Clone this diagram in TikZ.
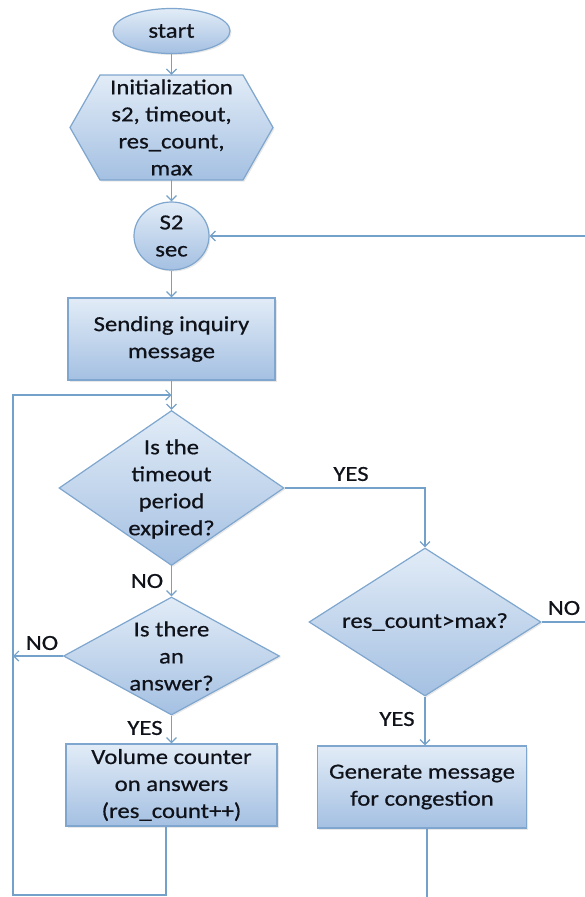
\documentclass[tikz,border=0pt]{standalone}
\usepackage{fontspec}
\setmainfont[FakeStretch=1.15,FakeBold=0.6]{Carlito}
\usetikzlibrary{arrows.meta,shapes.geometric,shadows}
\definecolor{fillTop}{HTML}{E2ECF7}
\definecolor{fillBot}{HTML}{A4C0E2}
\definecolor{edgec}{HTML}{7EA6CE}
\definecolor{wirec}{HTML}{74A1C9}
\definecolor{ink}{HTML}{10121A}
\begin{document}
\begin{tikzpicture}[x=1pt,y=-1pt,
  box/.style={draw=edgec, line width=1.2pt, top color=fillTop, bottom color=fillBot,
    text=ink, align=center, font=\fontsize{21.5}{27}\selectfont, inner sep=0pt,
    drop shadow={opacity=0.18, shadow xshift=1.5pt, shadow yshift=-1.5pt}},
  txt/.style={text=ink, align=center, font=\fontsize{21.5}{27}\selectfont, inner sep=0pt},
  wire/.style={draw=wirec, line width=1.3pt},
  arr/.style={wire, -{Straight Barb[length=5pt,width=10pt,line width=1.2pt]}},
  lbl/.style={txt, inner sep=1pt}]
\useasboundingbox (0,0) rectangle (585,897);

% start
\node[box, ellipse, minimum width=117, minimum height=45] (start) at (171.5,31) {start};

% initialization hexagon
\path[box] (70,127.5) -- (100,75) -- (243,75) -- (273,127.5) -- (243,180) -- (100,180) -- cycle;
\node[txt, minimum width=203, minimum height=105] (init) at (171.5,127.5)
  {Initialization\\s2, timeout,\\res\_count,\\max};

% wait circle
\node[box, ellipse, minimum width=75, minimum height=68] (wait) at (171.5,236) {};
\node[txt] (waitt) at (wait) {S2\\sec};

% sending inquiry
\node[box, minimum width=207, minimum height=82] (send) at (171.5,339) {Sending inquiry\\message};

% decision 1
\node[box, diamond, minimum width=225, minimum height=155] (q1) at (171.5,488) {};
\node[txt] (q1t) at (171.5,489) {Is the\\timeout\\period\\expired?};

% decision answer
\node[box, diamond, minimum width=216, minimum height=118] (q2) at (171.5,656) {};
\node[txt] (q2t) at (171.5,656) {Is there\\an\\answer?};

% volume counter
\node[box, minimum width=211, minimum height=82] (vol) at (171.5,785)
  {Volume counter\\on answers\\(res\_count++)};

% decision 3
\node[box, diamond, minimum width=232, minimum height=148] (q3) at (425,622) {};
\node[txt] (q3t) at (425,622) {res\_count>max?};

% generate message
\node[box, minimum width=209, minimum height=82] (gen) at (422,787)
  {Generate message\\for congestion};

% helper coordinates
\coordinate (lpTop) at (13,395);
\coordinate (lpBot) at (13,895);
\coordinate (retIn) at (585,236);
\coordinate (noOut) at (585,622);
\coordinate (genEnd) at (427,897);

% connectors
\draw[arr] (start.south) -- (init.north);
\draw[arr] (init.south) -- (wait.north);
\draw[arr] (wait.south) -- (send.north);
\draw[arr] (send.south) -- (q1.north);
\draw[arr] (q1.south) -- (q2.north);
\draw[arr] (q2.south) -- (vol.north);
\draw[arr] (q2.west) -- (q2.west -| lpTop);
\draw[arr] ([xshift=-5.5pt]vol.south) |- (lpBot) |- (lpTop -| send.south);
\draw[arr] (q1.east) -| (q3.north);
\draw[arr] (q3.south) -- (q3.south |- gen.north);
\draw[wire] (q3.east) -- (noOut);
\draw[wire] (gen.south -| genEnd) -- (genEnd);
\draw[arr] (retIn) -- (wait.east);

% labels
\node[lbl] (yes1) at (351,474) {YES};
\node[lbl] (no1) at (147,581) {NO};
\node[lbl] (no2) at (42,643) {NO};
\node[lbl] (yes2) at (145,728) {YES};
\node[lbl] (no3) at (564,608) {NO};
\node[lbl] (yes3) at (397,719) {YES};
\end{tikzpicture}
\end{document}
